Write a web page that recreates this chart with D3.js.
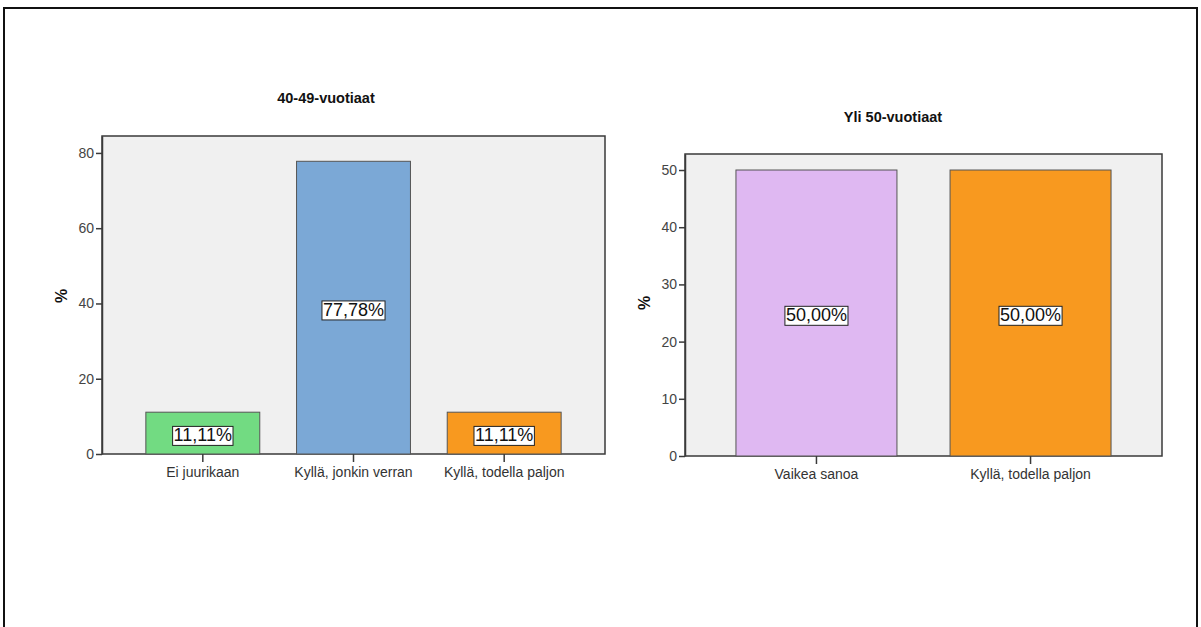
<!DOCTYPE html>
<html>
<head>
<meta charset="utf-8">
<script src="https://cdn.jsdelivr.net/npm/d3@7"></script>
<style>
  html, body { margin: 0; padding: 0; background: #fff; }
  svg { display: block; font-family: "Liberation Sans", Arial, sans-serif; }
</style>
</head>
<body>
<svg id="chart" width="1201" height="627"></svg>
<script>
// Age group 40-49
const catsA = ["Ei juurikaan", "Kyllä, jonkin verran", "Kyllä, todella paljon"];
const valsA = [11.11, 77.78, 11.11];
const colorsA = ["#72db82", "#7ba8d6", "#f8991f"];
const ticksA = [0, 20, 40, 60, 80];

// Age group over 50
const catsB = ["Vaikea sanoa", "Kyllä, todella paljon"];
const valsB = [50.0, 50.0];
const colorsB = ["#dfb8f2", "#f8991f"];
const ticksB = [0, 10, 20, 30, 40, 50];

const svg = d3.select("#chart");

// outer frame
svg.append("path")
  .attr("d", "M4,627 V8 H1197 V627")
  .attr("fill", "none")
  .attr("stroke", "#111")
  .attr("stroke-width", 2);

const fmt = v => d3.format(".2f")(v).replace(".", ",") + "%";

function panel(cfg) {
  const g = svg.append("g");
  const x = d3.scaleBand().domain(cfg.cats)
    .range([cfg.x0, cfg.x1])
    .paddingInner(cfg.pin).paddingOuter(cfg.pout);
  const y = d3.scaleLinear().domain([0, cfg.ymax]).range([cfg.y1, cfg.y0]);

  // plot background
  g.append("rect")
    .attr("x", cfg.x0).attr("y", cfg.y0)
    .attr("width", cfg.x1 - cfg.x0).attr("height", cfg.y1 - cfg.y0)
    .attr("fill", "#f0f0f0")
    .attr("stroke", "#3a3a3a").attr("stroke-width", 1.5);

  // bars
  g.selectAll("rect.bar").data(cfg.vals).join("rect")
    .attr("class", "bar")
    .attr("x", (d, i) => x(cfg.cats[i]))
    .attr("width", x.bandwidth())
    .attr("y", d => y(d))
    .attr("height", d => y(0) - y(d))
    .attr("fill", (d, i) => cfg.colors[i])
    .attr("stroke", "#555").attr("stroke-width", 1);

  // y axis
  const ya = g.append("g").attr("transform", `translate(${cfg.x0},0)`)
    .call(d3.axisLeft(y).tickValues(cfg.ticks).tickSize(6).tickSizeOuter(0).tickPadding(2));
  ya.select(".domain").attr("stroke", "#3a3a3a").attr("stroke-width", 1.5);
  ya.selectAll(".tick line").attr("stroke", "#3a3a3a").attr("stroke-width", 1.5);
  ya.selectAll(".tick text").attr("fill", "#444").style("font-size", "14px")
    .style("font-family", "'Liberation Sans', Arial, sans-serif");

  // x axis
  const xa = g.append("g").attr("transform", `translate(0,${cfg.y1})`)
    .call(d3.axisBottom(x).tickSize(8).tickPadding(5));
  xa.select(".domain").remove();
  xa.selectAll(".tick line").attr("stroke", "#3a3a3a").attr("stroke-width", 1.5);
  xa.selectAll(".tick text").attr("fill", "#333").style("font-size", "14px")
    .style("font-family", "'Liberation Sans', Arial, sans-serif");

  // value labels in white boxes
  const lab = g.selectAll("g.lab").data(cfg.vals).join("g")
    .attr("class", "lab")
    .attr("transform", (d, i) =>
      `translate(${x(cfg.cats[i]) + x.bandwidth() / 2},${(y(d) + y(0)) / 2 + 2})`);
  lab.each(function(d) {
    const s = d3.select(this);
    const t = s.append("text")
      .attr("text-anchor", "middle")
      .attr("dy", "0.35em")
      .style("font-size", "18px")
      .attr("fill", "#111")
      .text(fmt(d));
    const bb = t.node().getBBox();
    s.insert("rect", "text")
      .attr("x", bb.x - 1).attr("y", bb.y + 1)
      .attr("width", bb.width + 2).attr("height", bb.height - 1)
      .attr("fill", "#fff").attr("stroke", "#222").attr("stroke-width", 1);
  });

  // title
  g.append("text")
    .attr("x", cfg.tx).attr("y", cfg.ty)
    .attr("text-anchor", "middle")
    .style("font-size", "14.5px").style("font-weight", "bold")
    .attr("fill", "#111")
    .text(cfg.title);

  // y-axis label
  g.append("text")
    .attr("transform", `translate(${cfg.lx},${cfg.ly}) rotate(-90)`)
    .attr("text-anchor", "middle")
    .style("font-size", "16px").style("font-weight", "bold")
    .attr("fill", "#111")
    .text("%");
}

panel({
  cats: catsA, vals: valsA, colors: colorsA, ticks: ticksA,
  x0: 102, x1: 605, y0: 136, y1: 454, ymax: 84.5,
  pin: 0.244, pout: 0.291,
  title: "40-49-vuotiaat", tx: 326, ty: 103, lx: 67, ly: 296
});

panel({
  cats: catsB, vals: valsB, colors: colorsB, ticks: ticksB,
  x0: 685, x1: 1162, y0: 154, y1: 456, ymax: 52.8,
  pin: 0.248, pout: 0.238,
  title: "Yli 50-vuotiaat", tx: 893, ty: 122, lx: 650, ly: 303
});
</script>
</body>
</html>
